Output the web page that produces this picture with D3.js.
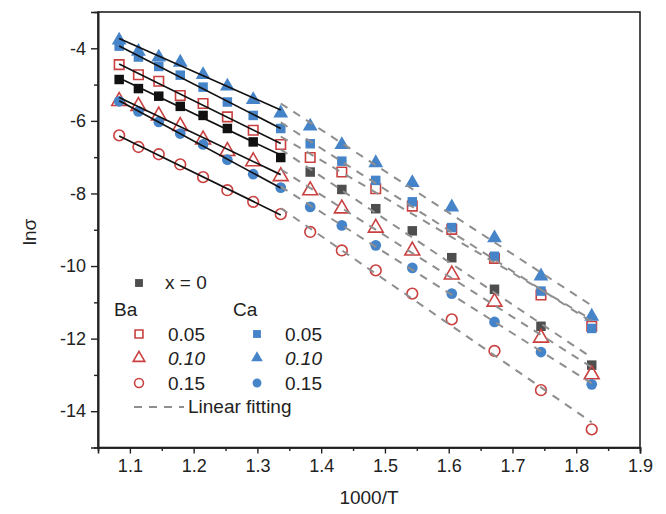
<!DOCTYPE html>
<html><head><meta charset="utf-8">
<script src="https://cdn.jsdelivr.net/npm/d3@7"></script>
<style>
html,body{margin:0;padding:0;background:#fff;}
svg{display:block;font-family:"Liberation Sans",Arial,sans-serif;}
</style></head>
<body><svg id="c" width="666" height="514"></svg>
<script>
// ---- data ----
const invT = [1.0832,1.1134,1.1453,1.1790,1.2148,1.2529,1.2934,1.3366,1.3828,1.4324,1.4856,1.5429,1.6048,1.6718,1.7447,1.8243];
const x0   = [-4.86,-5.11,-5.32,-5.60,-5.85,-6.21,-6.58,-7.01,-7.41,-7.89,-8.42,-9.03,-9.77,-10.64,-11.66,-12.73];
const ba05 = [-4.45,-4.73,-4.91,-5.30,-5.52,-5.89,-6.26,-6.65,-7.01,-7.41,-7.87,-8.35,-8.99,-9.79,-10.80,-11.66];
const ba10 = [-5.43,-5.57,-5.83,-6.12,-6.49,-6.81,-7.09,-7.50,-7.89,-8.39,-8.92,-9.55,-10.21,-10.96,-11.95,-12.96];
const ba15 = [-6.40,-6.72,-6.92,-7.20,-7.55,-7.91,-8.23,-8.57,-9.06,-9.57,-10.12,-10.76,-11.47,-12.34,-13.42,-14.50];
const ca05 = [-3.94,-4.24,-4.50,-4.74,-5.07,-5.48,-5.85,-6.21,-6.63,-7.11,-7.64,-8.23,-8.94,-9.73,-10.69,-11.72];
const ca10 = [-3.75,-4.06,-4.22,-4.36,-4.70,-5.02,-5.39,-5.76,-6.12,-6.63,-7.13,-7.68,-8.35,-9.20,-10.25,-11.36];
const ca15 = [-5.46,-5.74,-6.03,-6.35,-6.65,-7.07,-7.47,-7.84,-8.37,-8.88,-9.43,-10.05,-10.76,-11.54,-12.37,-13.26];
const xTicks = [1.1,1.2,1.3,1.4,1.5,1.6,1.7,1.8,1.9];
const xTickLabels = ["1.1","1.2","1.3","1.4","1.5","1.6","1.7","1.8","1.9"];
const yTicks = [-4,-6,-8,-10,-12,-14];
const yTickLabels = ["-4","-6","-8","-10","-12","-14"];
const highIdx = [0,1,2,3,4,5,6,7];
const lowIdx = [7,8,9,10,11,12,13,14,15];

const RED = "#c9403f", BLUE = "#4684c9";
const series = [
  {name:"x = 0", vals:x0,  shape:"square",   open:false, color:"#4e4e4e", hi:"#111"},
  {name:"Ba 0.05", vals:ba05, shape:"square",   open:true,  color:RED},
  {name:"Ba 0.10", vals:ba10, shape:"triangle", open:true,  color:RED},
  {name:"Ba 0.15", vals:ba15, shape:"circle",   open:true,  color:RED},
  {name:"Ca 0.05", vals:ca05, shape:"square",   open:false, color:BLUE},
  {name:"Ca 0.10", vals:ca10, shape:"triangle", open:false, color:BLUE},
  {name:"Ca 0.15", vals:ca15, shape:"circle",   open:false, color:BLUE}
];

const svg = d3.select("#c");
const L = 98, R = 640, T = 12, B = 447.5;
const x = d3.scaleLinear().domain([1.05,1.9]).range([L,R]);
const y = d3.scaleLinear().domain([-15,-3]).range([B,T]);

function symPath(shape, size){
  const t = shape==="square"?d3.symbolSquare:shape==="triangle"?d3.symbolTriangle:d3.symbolCircle;
  return d3.symbol().type(t).size(size)();
}
const sizes = {square:90, triangle:95, circle:90};
const lsizes = {square:62, triangle:58, circle:62};

// markers
series.forEach(s=>{
  const g = svg.append("g");
  g.selectAll("path").data(s.vals.map((v,i)=>({v,i}))).join("path")
    .attr("d", symPath(s.shape, sizes[s.shape]))
    .attr("transform", d=>`translate(${x(invT[d.i])},${y(d.v) + (s.shape==="triangle"?1:0)})`)
    .attr("fill", d=> s.open? "#fff" : (s.hi && d.i<8 ? s.hi : s.color))
    .attr("fill-opacity", s.open?0:1)
    .attr("stroke", s.open? s.color : "none")
    .attr("stroke-width", 1.6);
});

// fits
function fit(vals, idx){
  const xs = idx.map(i=>invT[i]), ys = idx.map(i=>vals[i]);
  const mx = d3.mean(xs), my = d3.mean(ys);
  let num=0, den=0;
  xs.forEach((xx,k)=>{num+=(xx-mx)*(ys[k]-my); den+=(xx-mx)*(xx-mx);});
  const b = num/den, a = my - b*mx;
  const x1 = xs[0], x2 = xs[xs.length-1];
  return [[x1,a+b*x1],[x2,a+b*x2]];
}
const line = d3.line().x(d=>x(d[0])).y(d=>y(d[1]));
series.forEach(s=>{
  svg.append("path").attr("d", line(fit(s.vals, highIdx)))
    .attr("stroke","#111").attr("stroke-width",1.7).attr("fill","none");
  svg.append("path").attr("d", line(fit(s.vals, lowIdx)))
    .attr("stroke","#8e8e8e").attr("stroke-width",2).attr("fill","none")
    .attr("stroke-dasharray","8,7");
});

// frame
svg.append("rect").attr("x",L).attr("y",T).attr("width",R-L).attr("height",B-T)
  .attr("fill","none").attr("stroke","#222").attr("stroke-width",1.6);

// axes
const xa = svg.append("g").attr("transform",`translate(0,${B})`)
  .call(d3.axisBottom(x).tickValues(xTicks).tickSize(6).tickPadding(6)
    .tickFormat((d,i)=>xTickLabels[i]));
const xm = svg.append("g").attr("transform",`translate(0,${B})`)
  .call(d3.axisBottom(x).tickValues([1.15,1.25,1.35,1.45,1.55,1.65,1.75,1.85]).tickSize(3.5).tickFormat(""));
const ya = svg.append("g").attr("transform",`translate(${L},0)`)
  .call(d3.axisLeft(y).tickValues(yTicks).tickSize(7).tickPadding(5)
    .tickFormat((d,i)=>yTickLabels[i]));
const ym = svg.append("g").attr("transform",`translate(${L},0)`)
  .call(d3.axisLeft(y).tickValues([-5,-7,-9,-11,-13]).tickSize(4).tickFormat(""));
[xa,xm,ya,ym].forEach(g=>{
  g.select(".domain").attr("stroke","#222").attr("stroke-width",1.6);
  g.selectAll(".tick line").attr("stroke","#222").attr("stroke-width",1.4);
  g.selectAll(".tick text").attr("fill","#222").style("font-size","18px")
    .style("font-family","'Liberation Sans',Arial,sans-serif");
});

// axis titles
svg.append("text").attr("x",369).attr("y",504).attr("text-anchor","middle")
  .attr("fill","#222").style("font-size","19px").text("1000/T");
svg.append("text").attr("transform","translate(36,232) rotate(-90)").attr("text-anchor","middle")
  .attr("fill","#222").style("font-size","19px").text("lnσ");

// legend
const lg = svg.append("g");
function lmark(cx, cy, s){
  lg.append("path").attr("d", symPath(s.shape, lsizes[s.shape]))
    .attr("transform",`translate(${cx},${cy})`)
    .attr("fill", s.open? "none" : s.color)
    .attr("stroke", s.open? s.color : "none").attr("stroke-width",1.6);
}
function ltext(tx, ty, t, it){
  lg.append("text").attr("x",tx).attr("y",ty).attr("fill","#222")
    .style("font-size","19px").style("font-style", it?"italic":"normal").text(t);
}
lmark(139, 283, series[0]); ltext(165, 289, "x = 0");
ltext(114, 316, "Ba"); ltext(233, 316, "Ca");
const rows = [334, 358, 383];
const lbls = ["0.05","0.10","0.15"];
rows.forEach((ry,k)=>{
  lmark(139, ry, series[1+k]); ltext(168, ry+7, lbls[k], k===1);
  lmark(257, ry, series[4+k]); ltext(285, ry+7, lbls[k], k===1);
});
lg.append("line").attr("x1",134).attr("x2",184).attr("y1",407).attr("y2",407)
  .attr("stroke","#8e8e8e").attr("stroke-width",2).attr("stroke-dasharray","8,7");
ltext(188, 413, "Linear fitting");
</script></body></html>
